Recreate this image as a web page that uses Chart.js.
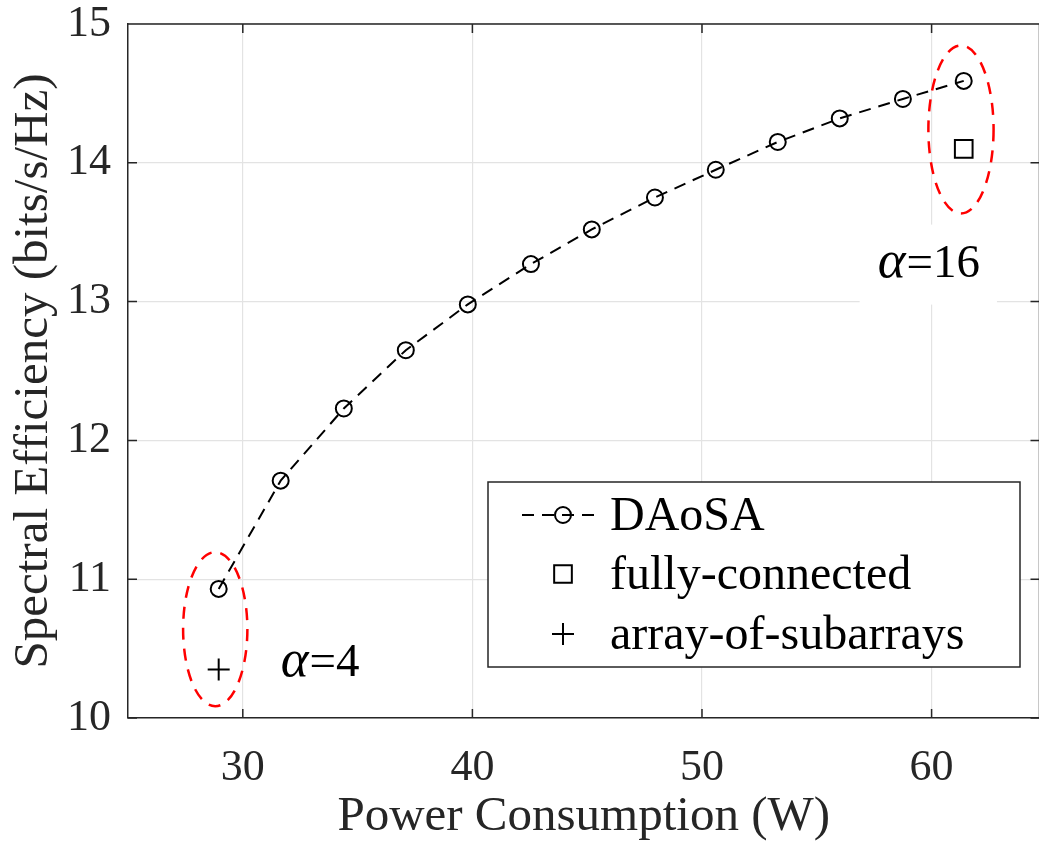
<!DOCTYPE html>
<html>
<head>
<meta charset="utf-8">
<script src="https://cdn.jsdelivr.net/npm/chart.js@4/dist/chart.umd.min.js"></script>
<style>
  html, body { margin: 0; padding: 0; background: #fff; overflow: hidden; width: 1039px; height: 845px; }
  canvas { display: block; }
</style>
</head>
<body>
<canvas id="myChart" width="1054" height="845"></canvas>
<script>
let power = [28.95, 31.65, 34.4, 37.1, 39.8, 42.55, 45.2, 47.95, 50.6, 53.3, 56.0, 58.75, 61.4];
let daosa = [10.93, 11.71, 12.23, 12.65, 12.98, 13.27, 13.52, 13.75, 13.95, 14.15, 14.32, 14.46, 14.59];
let fullyX = [61.4];
let fullyY = [14.10];
let aosaX = [28.95];
let aosaY = [10.35];

let xTicks = [30, 40, 50, 60];
let yTicks = [10, 11, 12, 13, 14, 15];

// red dashed ellipses, in data units: centre x, centre y, half width, half height
let ellipses = [
    {cx: 28.8, cy: 10.64, rx: 1.4, ry: 0.555},
    {cx: 61.28, cy: 14.24, rx: 1.42, ry: 0.605}
];
let alphaLabels = [
    {value: "4", x: 31.65, y: 10.30, box: false},
    {value: "16", x: 57.65, y: 13.18, box: true}
];

let serif = "'Liberation Serif', 'Times New Roman', serif";
let axisColor = "#262626";

let toXY = (xs, ys) => xs.map((v, i) => ({x: v, y: ys[i]}));

let boxPlugin = {
    id: "box",
    beforeDatasetsDraw(chart) {
        let ctx = chart.ctx;
        let x = chart.scales.x, y = chart.scales.y;
        ctx.save();
        ctx.setLineDash([12, 9]);
        ctx.strokeStyle = "#ff0000";
        ctx.lineWidth = 2.5;
        ellipses.forEach(e => {
            let px = x.getPixelForValue(e.cx), py = y.getPixelForValue(e.cy);
            let rx = Math.abs(x.getPixelForValue(e.cx + e.rx) - px);
            let ry = Math.abs(y.getPixelForValue(e.cy + e.ry) - py);
            ctx.beginPath();
            ctx.ellipse(px, py, rx, ry, 0, 0, Math.PI * 2);
            ctx.stroke();
        });
        ctx.restore();
    },
    afterDatasetsDraw(chart) {
        let ctx = chart.ctx;
        let a = chart.chartArea;
        let x = chart.scales.x, y = chart.scales.y;
        ctx.save();
        // box and inward ticks
        ctx.strokeStyle = axisColor;
        ctx.lineWidth = 1.5;
        ctx.setLineDash([]);
        ctx.beginPath();
        ctx.moveTo(a.left, a.top); ctx.lineTo(a.right, a.top);
        ctx.moveTo(a.right, a.top); ctx.lineTo(a.right, a.bottom);
        xTicks.forEach(v => {
            let p = x.getPixelForValue(v);
            ctx.moveTo(p, a.bottom); ctx.lineTo(p, a.bottom - 9);
            ctx.moveTo(p, a.top); ctx.lineTo(p, a.top + 9);
        });
        yTicks.forEach(v => {
            let p = y.getPixelForValue(v);
            ctx.moveTo(a.left, p); ctx.lineTo(a.left + 9, p);
            ctx.moveTo(a.right, p); ctx.lineTo(a.right - 9, p);
        });
        ctx.stroke();

        // alpha labels
        ctx.textBaseline = "alphabetic";
        alphaLabels.forEach(l => {
            let px = x.getPixelForValue(l.x), py = y.getPixelForValue(l.y);
            ctx.font = "italic 53px " + serif;
            let wa = ctx.measureText("\u03b1").width;
            ctx.font = "47px " + serif;
            let wr = ctx.measureText("=" + l.value).width;
            if (l.box) {
                ctx.fillStyle = "#fff";
                ctx.fillRect(px - 18, py - 52, wa + wr + 36, 80);
            }
            ctx.fillStyle = "#000";
            ctx.font = "italic 53px " + serif;
            ctx.fillText("\u03b1", px, py);
            ctx.font = "47px " + serif;
            ctx.fillText("=" + l.value, px + wa + 1, py);
        });

        // legend
        let lx = 488, ly = 482, lw = 532, lh = 185;
        ctx.fillStyle = "#fff";
        ctx.fillRect(lx, ly, lw, lh);
        ctx.strokeStyle = axisColor;
        ctx.lineWidth = 1.5;
        ctx.strokeRect(lx, ly, lw, lh);
        let rows = [ly + 33, ly + 92, ly + 152];
        let sx = 563, tx = 610;
        chart.data.datasets.forEach((ds, i) => {
            let cy = rows[i];
            ctx.strokeStyle = "#000";
            ctx.lineWidth = 2;
            if (ds.showLine !== false) {
                ctx.setLineDash(ds.borderDash);
                ctx.beginPath();
                ctx.moveTo(522, cy); ctx.lineTo(602, cy);
                ctx.stroke();
                ctx.setLineDash([]);
            }
            ctx.fillStyle = "rgba(0,0,0,0)";
            Chart.helpers.drawPoint(ctx, {
                pointStyle: ds.pointStyle,
                radius: ds.pointRadius,
                borderWidth: 2
            }, sx, cy);
            ctx.fillStyle = "#000";
            ctx.font = "48px " + serif;
            ctx.textBaseline = "middle";
            ctx.fillText(ds.label, tx, cy + 2);
        });
        ctx.restore();
    }
};

let noPad = axis => {
    axis.paddingTop = 0;
    axis.paddingBottom = 0;
    axis.paddingLeft = 0;
    axis.paddingRight = 0;
};

new Chart("myChart", {
    type: "scatter",
    data: {
        datasets: [{
            label: "DAoSA",
            data: toXY(power, daosa),
            showLine: true,
            borderColor: "#000",
            borderWidth: 2,
            borderDash: [12, 8],
            pointStyle: "circle",
            pointRadius: 8,
            pointBorderWidth: 2,
            pointBorderColor: "#000",
            pointBackgroundColor: "rgba(0,0,0,0)"
        }, {
            label: "fully-connected",
            data: toXY(fullyX, fullyY),
            showLine: false,
            pointStyle: "rect",
            pointRadius: 12.5,
            pointBorderWidth: 2,
            pointBorderColor: "#000",
            pointBackgroundColor: "rgba(0,0,0,0)"
        }, {
            label: "array-of-subarrays",
            data: toXY(aosaX, aosaY),
            showLine: false,
            pointStyle: "cross",
            pointRadius: 11,
            pointBorderWidth: 2,
            pointBorderColor: "#000"
        }]
    },
    options: {
        responsive: false,
        animation: false,
        layout: {padding: {top: 24, right: 0, left: 0, bottom: 0}},
        plugins: {
            legend: {display: false},
            tooltip: {enabled: false}
        },
        scales: {
            x: {
                type: "linear",
                min: 25,
                max: 64.7,
                afterBuildTicks: axis => { axis.ticks = xTicks.map(v => ({value: v})); },
                afterFit: axis => { axis.height = 127; noPad(axis); },
                grid: {color: "#e3e3e3", lineWidth: 1.2, drawTicks: false},
                border: {color: axisColor, width: 1.5},
                ticks: {color: "#262626", font: {family: serif, size: 44}, padding: 24},
                title: {
                    display: true,
                    text: "Power Consumption (W)",
                    color: "#262626",
                    font: {family: serif, size: 49, lineHeight: 1},
                    padding: {top: 0, bottom: 3}
                }
            },
            y: {
                type: "linear",
                min: 10,
                max: 15,
                afterBuildTicks: axis => { axis.ticks = yTicks.map(v => ({value: v})); },
                afterFit: axis => { axis.width = 128; noPad(axis); },
                grid: {color: "#e3e3e3", lineWidth: 1.2, drawTicks: false},
                border: {color: axisColor, width: 1.5},
                ticks: {color: "#262626", font: {family: serif, size: 44}, padding: 17},
                title: {
                    display: true,
                    text: "Spectral Efficiency (bits/s/Hz)",
                    color: "#262626",
                    font: {family: serif, size: 49, lineHeight: 1},
                    padding: {top: 10, bottom: 0}
                }
            }
        }
    },
    plugins: [boxPlugin]
});
</script>
</body>
</html>
